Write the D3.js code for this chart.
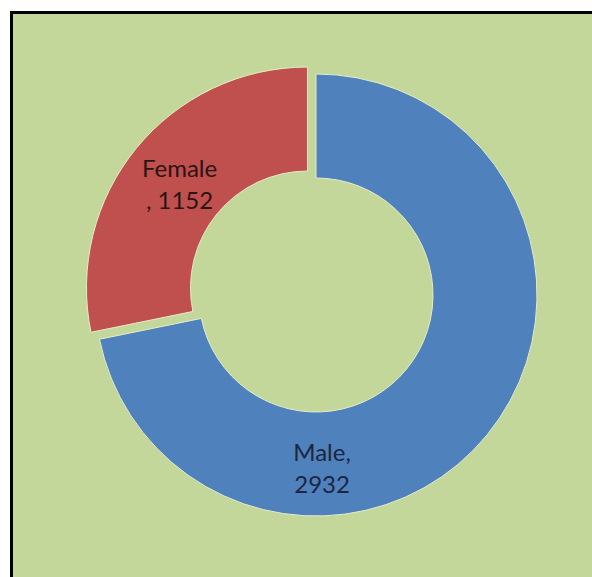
<!DOCTYPE html>
<html>
<head>
<meta charset="utf-8">
<script src="https://cdn.jsdelivr.net/npm/d3@7"></script>
<style>
  html, body { margin: 0; padding: 0; background: #ffffff; overflow: hidden; }
  svg { display: block; }
</style>
</head>
<body>
<svg id="chart" width="592" height="577"></svg>
<script>
// Data
const categories = ["Male", "Female"];
const values = [2932, 1152];
const colors = ["#4f81bd", "#c0504d"];
const labelLines = [["Male,", "2932"], ["Female", ", 1152"]];

const W = 592, H = 577;
const svg = d3.select("#chart");

// background + border (only top and left are visible in the frame)
svg.append("rect").attr("x", 11.5).attr("y", 12.5).attr("width", W + 200).attr("height", H + 200)
  .attr("fill", "#c4d79b").attr("stroke", "#000").attr("stroke-width", 3);

const cx = 316, cy = 295;
const outerR = 221, innerR = 117;
const explode = [0, 11];

const pie = d3.pie().sort(null).value(d => d.value).startAngle(0).endAngle(2 * Math.PI);
const data = categories.map((c, i) => ({ name: c, value: values[i], i }));
const arcs = pie(data);

const arc = d3.arc().innerRadius(innerR).outerRadius(outerR);
const g = svg.append("g").attr("transform", `translate(${cx},${cy})`);

arcs.forEach((a, k) => {
  const mid = (a.startAngle + a.endAngle) / 2;
  const ox = Math.sin(mid) * explode[k];
  const oy = -Math.cos(mid) * explode[k];
  const sg = g.append("g").attr("transform", `translate(${ox},${oy})`);
  sg.append("path").attr("d", arc(a)).attr("fill", colors[k])
    .attr("stroke", "#e6ecc8").attr("stroke-width", 1);

  // label position: centroid for Female, near bottom for Male (as in reference)
  let lx, ly;
  if (k === 1) {
    const c = arc.centroid(a);
    lx = c[0] + 3; ly = c[1] + 4;
  } else {
    const ang = Math.PI * 178 / 180, r = 174;
    lx = Math.sin(ang) * r; ly = -Math.cos(ang) * r;
  }
  const t = sg.append("text").attr("text-anchor", "middle")
    .attr("font-family", "Lato, 'Open Sans', sans-serif").attr("font-size", 24)
    .attr("fill", k === 0 ? "#1c2640" : "#2a1414");
  const lines = labelLines[k];
  lines.forEach((ln, j) => {
    t.append("tspan").attr("x", lx).attr("y", ly + (j - 0.5) * 32 + 8).text(ln);
  });
});
</script>
</body>
</html>
